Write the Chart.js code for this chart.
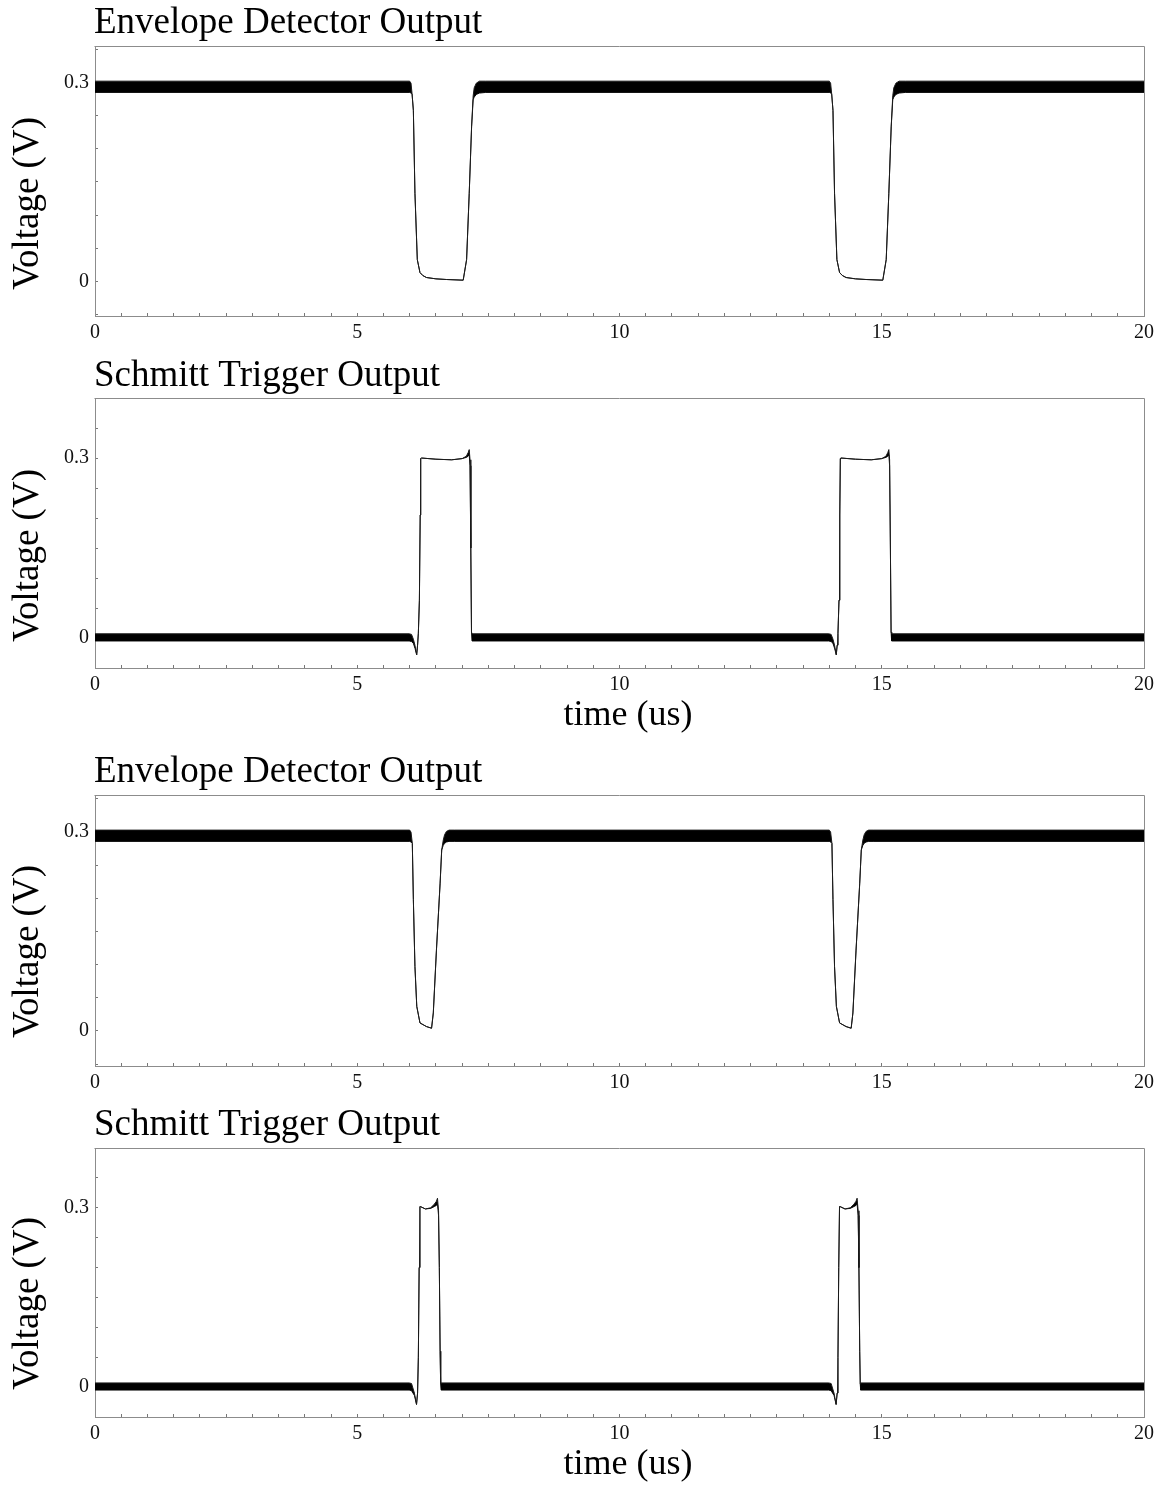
<!DOCTYPE html>
<html><head><meta charset="utf-8">
<script src="https://cdn.jsdelivr.net/npm/chart.js@4.4.1/dist/chart.umd.min.js"></script>
<style>
html,body{margin:0;padding:0;background:#fff;}
#wrap{position:relative;width:1168px;height:1487px;overflow:hidden;background:#fff;}
#wrap canvas{position:absolute;left:0;}
</style></head><body>
<div id="wrap">
<canvas id="c1" width="1168" height="350" style="top:0px"></canvas>
<canvas id="c2" width="1168" height="395" style="top:350px"></canvas>
<canvas id="c3" width="1168" height="355" style="top:745px"></canvas>
<canvas id="c4" width="1168" height="387" style="top:1100px"></canvas>
</div>
<script>
// ---------- data (time in us, voltage in V) ----------
// Panel 1: Envelope Detector Output (long gaps). Hi/Lo = upper/lower edge of the ripple band
const env1T  = [0, 6.0, 6.025, 6.045, 6.07, 6.10, 6.145, 6.196, 6.25, 6.32, 6.5, 6.7, 7.02, 7.085, 7.135, 7.18, 7.21, 7.23, 7.27, 7.33, 7.45,
                14.0, 14.025, 14.045, 14.07, 14.10, 14.145, 14.196, 14.25, 14.32, 14.5, 14.7, 15.02, 15.085, 15.135, 15.18, 15.21, 15.23, 15.27, 15.33, 15.45, 20];
const env1Hi = [0.302, 0.302, 0.299, 0.283, 0.258, 0.133, 0.033, 0.0135, 0.009, 0.006, 0.004, 0.003, 0.002, 0.033, 0.133, 0.233, 0.280, 0.292, 0.299, 0.302, 0.302,
                0.302, 0.299, 0.283, 0.258, 0.133, 0.033, 0.0135, 0.009, 0.006, 0.004, 0.003, 0.002, 0.033, 0.133, 0.233, 0.280, 0.292, 0.299, 0.302, 0.302, 0.302];
const env1Lo = [0.285, 0.285, 0.284, 0.283, 0.258, 0.133, 0.033, 0.0135, 0.009, 0.006, 0.004, 0.003, 0.002, 0.033, 0.133, 0.233, 0.274, 0.278, 0.282, 0.284, 0.285,
                0.285, 0.284, 0.283, 0.258, 0.133, 0.033, 0.0135, 0.009, 0.006, 0.004, 0.003, 0.002, 0.033, 0.133, 0.233, 0.274, 0.278, 0.282, 0.284, 0.285, 0.285];

// Panel 2: Schmitt Trigger Output (long pulses)
const sch1T  = [0, 5.99, 6.035, 6.07, 6.10, 6.133, 6.15, 6.165, 6.185, 6.20, 6.21, 6.22, 6.5, 6.8, 7.0, 7.08, 7.115, 7.135, 7.15, 7.165, 7.178, 7.188,
                13.99, 14.035, 14.07, 14.10, 14.133, 14.15, 14.165, 14.185, 14.20, 14.21, 14.22, 14.5, 14.8, 15.0, 15.08, 15.115, 15.135, 15.15, 15.165, 15.178, 15.188, 20];
const sch1Hi = [0.007, 0.007, 0.006, -0.002, -0.012, -0.028, -0.012, 0.008, 0.063, 0.205, 0.299, 0.300, 0.298, 0.297, 0.299, 0.303, 0.309, 0.314, 0.297, 0.150, 0.010, 0.007,
                0.007, 0.006, -0.002, -0.012, -0.028, -0.012, 0.008, 0.063, 0.205, 0.299, 0.300, 0.298, 0.297, 0.299, 0.303, 0.309, 0.314, 0.297, 0.150, 0.010, 0.007, 0.007];
const sch1Lo = [-0.005, -0.005, -0.006, -0.009, -0.017, -0.028, -0.012, 0.008, 0.063, 0.205, 0.299, 0.300, 0.298, 0.297, 0.299, 0.301, 0.303, 0.305, 0.287, 0.150, 0.010, -0.005,
                -0.005, -0.006, -0.009, -0.017, -0.028, -0.012, 0.008, 0.063, 0.205, 0.299, 0.300, 0.298, 0.297, 0.299, 0.301, 0.303, 0.305, 0.287, 0.150, 0.010, -0.005, -0.005];

// Panel 3: Envelope Detector Output (short gaps)
const env2T  = [0, 6.0, 6.025, 6.05, 6.07, 6.10, 6.135, 6.196, 6.32, 6.417, 6.45, 6.51, 6.58, 6.61, 6.64, 6.665, 6.70, 6.75, 6.85,
                14.0, 14.025, 14.05, 14.07, 14.10, 14.135, 14.196, 14.32, 14.417, 14.45, 14.51, 14.58, 14.61, 14.64, 14.665, 14.70, 14.75, 14.85, 20];
const env2Hi = [0.303, 0.303, 0.300, 0.283, 0.198, 0.097, 0.037, 0.012, 0.0065, 0.004, 0.027, 0.122, 0.223, 0.273, 0.288, 0.296, 0.301, 0.303, 0.303,
                0.303, 0.300, 0.283, 0.198, 0.097, 0.037, 0.012, 0.0065, 0.004, 0.027, 0.122, 0.223, 0.273, 0.288, 0.296, 0.301, 0.303, 0.303, 0.303];
const env2Lo = [0.286, 0.286, 0.285, 0.283, 0.198, 0.097, 0.037, 0.012, 0.0065, 0.004, 0.027, 0.122, 0.223, 0.273, 0.280, 0.283, 0.285, 0.286, 0.286,
                0.286, 0.285, 0.283, 0.198, 0.097, 0.037, 0.012, 0.0065, 0.004, 0.027, 0.122, 0.223, 0.273, 0.280, 0.283, 0.285, 0.286, 0.286, 0.286];

// Panel 4: Schmitt Trigger Output (short pulses)
const sch2T  = [0, 5.99, 6.035, 6.09, 6.13, 6.15, 6.165, 6.18, 6.195, 6.205, 6.3, 6.4, 6.47, 6.51, 6.53, 6.55, 6.565, 6.58, 6.59, 6.598,
                13.99, 14.035, 14.09, 14.13, 14.15, 14.165, 14.18, 14.195, 14.205, 14.3, 14.4, 14.47, 14.51, 14.53, 14.55, 14.565, 14.58, 14.59, 14.598, 20];
const sch2Hi = [0.007, 0.007, 0.006, -0.010, -0.029, -0.010, 0.050, 0.200, 0.302, 0.302, 0.298, 0.300, 0.306, 0.311, 0.316, 0.295, 0.200, 0.060, 0.005, 0.007,
                0.007, 0.006, -0.010, -0.029, -0.010, 0.050, 0.200, 0.302, 0.302, 0.298, 0.300, 0.306, 0.311, 0.316, 0.295, 0.200, 0.060, 0.005, 0.007, 0.007];
const sch2Lo = [-0.005, -0.005, -0.006, -0.014, -0.029, -0.010, 0.050, 0.200, 0.302, 0.302, 0.298, 0.299, 0.302, 0.304, 0.306, 0.287, 0.200, 0.060, 0.005, -0.005,
                -0.005, -0.006, -0.014, -0.029, -0.010, 0.050, 0.200, 0.302, 0.302, 0.298, 0.299, 0.302, 0.304, 0.306, 0.287, 0.200, 0.060, 0.005, -0.005, -0.005];

// ticks
const xTickLabels = [0, 5, 10, 15, 20];
const yTickValues = [-0.05, 0, 0.05, 0.1, 0.15, 0.2, 0.25, 0.3, 0.35, 0.4];
const yTickLabels = [0, 0.3];

const FONT = "'Liberation Serif', 'Times New Roman', Times, serif";

const textPlugin = {
  id: 'panelText',
  afterDraw(chart, args, o) {
    const ctx = chart.ctx;
    const a = chart.chartArea;
    ctx.save();
    // frame top and right
    ctx.strokeStyle = '#8c8c8c';
    ctx.lineWidth = 1;
    ctx.beginPath();
    ctx.moveTo(Math.round(a.left) - 0.5, Math.round(a.top) + 0.5);
    ctx.lineTo(Math.round(a.right) + 0.5, Math.round(a.top) + 0.5);
    ctx.lineTo(Math.round(a.right) + 0.5, Math.round(a.bottom));
    ctx.stroke();
    ctx.fillStyle = '#000';
    ctx.font = '37px ' + FONT;
    ctx.textBaseline = 'alphabetic';
    ctx.textAlign = 'left';
    ctx.fillText(o.title, o.titleX, o.titleY);
    ctx.save();
    ctx.translate(o.yLabelX, o.yLabelY);
    ctx.rotate(-Math.PI / 2);
    ctx.fillText(o.yLabel, 0, 0);
    ctx.restore();
    if (o.xLabel) {
      ctx.font = '36px ' + FONT;
      ctx.textAlign = 'center';
      ctx.fillText(o.xLabel, o.xLabelX, o.xLabelY);
    }
    ctx.restore();
  }
};

function pts(t, v) { return t.map((x, i) => ({ x: x, y: v[i] })); }

const panels = [
  { id: 'c1', H: 350, plotTop: 46, plotBottom: 316, yMin: -0.052, yMax: 0.355,
    t: env1T, hi: env1Hi, lo: env1Lo,
    text: { title: 'Envelope Detector Output', titleX: 94, titleY: 33, yLabel: 'Voltage (V)', yLabelX: 38, yLabelY: 290 } },
  { id: 'c2', H: 395, plotTop: 48, plotBottom: 318, yMin: -0.05, yMax: 0.40,
    t: sch1T, hi: sch1Hi, lo: sch1Lo,
    text: { title: 'Schmitt Trigger Output', titleX: 94, titleY: 36, yLabel: 'Voltage (V)', yLabelX: 38, yLabelY: 292,
            xLabel: 'time (us)', xLabelX: 628, xLabelY: 375 } },
  { id: 'c3', H: 355, plotTop: 50, plotBottom: 321, yMin: -0.053, yMax: 0.356,
    t: env2T, hi: env2Hi, lo: env2Lo,
    text: { title: 'Envelope Detector Output', titleX: 94, titleY: 37, yLabel: 'Voltage (V)', yLabelX: 38, yLabelY: 293 } },
  { id: 'c4', H: 387, plotTop: 48, plotBottom: 317, yMin: -0.05, yMax: 0.40,
    t: sch2T, hi: sch2Hi, lo: sch2Lo,
    text: { title: 'Schmitt Trigger Output', titleX: 94, titleY: 35, yLabel: 'Voltage (V)', yLabelX: 38, yLabelY: 290,
            xLabel: 'time (us)', xLabelX: 628, xLabelY: 374 } }
];

panels.forEach(p => {
  new Chart(document.getElementById(p.id), {
    type: 'line',
    data: {
      datasets: [
        { data: pts(p.t, p.hi), borderColor: '#1a1a1a', borderWidth: 1, pointRadius: 0, tension: 0,
          fill: '+1', backgroundColor: '#000' },
        { data: pts(p.t, p.lo), borderColor: '#1a1a1a', borderWidth: 1, pointRadius: 0, tension: 0, fill: false }
      ]
    },
    options: {
      responsive: false,
      animation: false,
      devicePixelRatio: 1,
      layout: { padding: { top: p.plotTop, right: 24, bottom: 0, left: 0 } },
      plugins: { legend: { display: false }, tooltip: { enabled: false }, panelText: p.text },
      scales: {
        x: {
          type: 'linear', min: 0, max: 20,
          ticks: { stepSize: 0.5, autoSkip: false, maxRotation: 0, padding: 8, color: '#111',
                   font: { family: FONT, size: 20 },
                   callback: v => xTickLabels.some(l => Math.abs(l - v) < 1e-9) ? String(v) : '' },
          grid: { drawOnChartArea: false, drawTicks: true, tickLength: -3, color: '#777' },
          border: { display: true, color: '#8c8c8c', width: 1 },
          afterFit: s => { s.height = p.H - p.plotBottom; s.paddingLeft = 0; s.paddingRight = 0; }
        },
        y: {
          type: 'linear', min: p.yMin, max: p.yMax,
          afterBuildTicks: s => { s.ticks = yTickValues.filter(v => v >= p.yMin && v <= p.yMax).map(v => ({ value: v })); },
          ticks: { autoSkip: false, padding: 9, color: '#111', font: { family: FONT, size: 20 },
                   callback: v => { const l = yTickLabels.find(l => Math.abs(l - v) < 1e-9); return l === undefined ? '' : String(l); } },
          grid: { drawOnChartArea: false, drawTicks: true, tickLength: -3, color: '#777' },
          border: { display: true, color: '#8c8c8c', width: 1 },
          afterFit: s => { s.width = 95; s.paddingTop = 0; s.paddingBottom = 0; }
        }
      }
    },
    plugins: [textPlugin]
  });
});
</script>
</body></html>
